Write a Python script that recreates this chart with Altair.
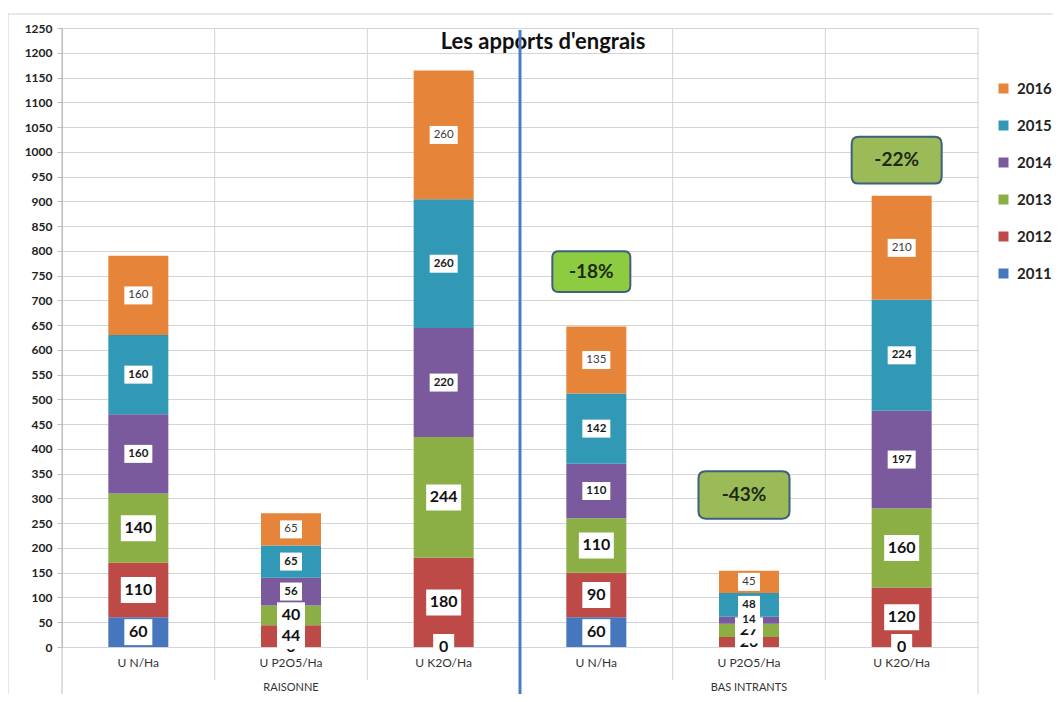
import altair as alt
import pandas as pd

# ---------------- data ----------------
groups = ["RAISONNE", "BAS INTRANTS"]
nutrients = ["U N/Ha", "U P2O5/Ha", "U K2O/Ha"]
years = ["2011", "2012", "2013", "2014", "2015", "2016"]

# order of bars: RAISONNE N, P2O5, K2O ; BAS INTRANTS N, P2O5, K2O
v2011 = [60, 0, 0, 60, 0, 0]
v2012 = [110, 44, 180, 90, 20, 120]
v2013 = [140, 40, 244, 110, 27, 160]
v2014 = [160, 56, 220, 110, 14, 197]
v2015 = [160, 65, 260, 142, 48, 224]
v2016 = [160, 65, 260, 135, 45, 210]
values_by_year = [v2011, v2012, v2013, v2014, v2015, v2016]

y_ticks = list(range(0, 1300, 50))
chart_title = "Les apports d'engrais"

pct_labels = ["-18%", "-43%", "-22%"]
pct_bar_index = [3, 4, 5]
pct_values = [758, 307, 983]

# ---------------- styles ----------------
year_colors = ["#4677BE", "#BE4A47", "#8BAE45", "#7A5A9C", "#3198B5", "#E6853A"]
pct_fills = ["#8DCB41", "#9BBB59", "#9BBB59"]
pct_box_widths = [78, 91, 90]
W, H = 916, 619
BAND = W / 6
FONT = "Lato"
GRID = "#D4D4D4"

cats = [f"{g}|{n}" for g in groups for n in nutrients]

rows = []
for bi, cat in enumerate(cats):
    cum = 0
    for yi, year in enumerate(years):
        v = values_by_year[yi][bi]
        lab = str(v)
        n = len(lab)
        if yi <= 2:
            bw, bh = 7 * n + 14, 26
        else:
            bw, bh = 6 * n + 10, 18
        rows.append(dict(cat=cat, year=year, yi=yi, value=v, mid=cum + v / 2,
                         label=lab, kind=f"{bw}x{bh}", bsize=bw * bw))
        cum += v
df = pd.DataFrame(rows)

kinds = sorted(df["kind"].unique())
paths = []
for k in kinds:
    bw, bh = [int(t) for t in k.split("x")]
    h = bh / bw
    paths.append(f"M-1,{-h} L1,{-h} L1,{h} L-1,{h} Z")

xs = alt.Scale(type="band", domain=cats, paddingInner=0, paddingOuter=0)
ys = alt.Scale(domain=[0, 1250], nice=False, zero=True)

x_axis = alt.Axis(title=None, labelExpr="split(datum.label, '|')[1]", labelAngle=0,
                  ticks=False, tickSize=0, domain=False, grid=False, labelFont=FONT,
                  labelFontSize=12, labelColor="#333333", labelPadding=10, labelLimit=300,
                  labelAlign="center", labelBound=False, zindex=1)
y_axis = alt.Axis(title=None, values=y_ticks, grid=True, gridColor=GRID, tickColor="#BDBDBD",
                  tickSize=5, domainColor="#BDBDBD", labelFont=FONT, labelFontSize=12,
                  labelFontWeight="bold", labelColor="#222222", labelPadding=5,
                  labelOverlap=False, format="d")


def X():
    return alt.X("cat:N", scale=xs, title=None, axis=x_axis)


def Y(field):
    return alt.Y(field, scale=ys, title=None, axis=y_axis)


bars = alt.Chart(df).mark_bar(size=60).encode(
    x=X(),
    y=alt.Y("value:Q", scale=ys, stack="zero", title=None, axis=y_axis),
    order=alt.Order("yi:Q", sort="ascending"),
    color=alt.Color("year:N", scale=alt.Scale(domain=years[::-1], range=year_colors[::-1]),
                    legend=alt.Legend(title=None, orient="none", legendX=934, legendY=53,
                                      direction="vertical", symbolType="square", symbolSize=100,
                                      symbolStrokeWidth=0, labelFont=FONT, labelFontSize=15,
                                      labelFontWeight="bold", labelColor="#222222",
                                      rowPadding=21, labelOffset=6, padding=0)),
)

one = pd.DataFrame({"a": [0]})
frame_left = alt.Chart(one).mark_rule(color="#D0D0D0").encode(
    x=alt.value(-54), y=alt.value(-14), y2=alt.value(H + 70))
frame_top = alt.Chart(one).mark_rule(color="#D0D0D0").encode(
    x=alt.value(-54), x2=alt.value(W + 140), y=alt.value(-14))

inner_sep = alt.Chart(pd.DataFrame({"cat": [cats[1], cats[2], cats[4], cats[5]]})).mark_rule(
    color=GRID, xOffset=-BAND / 2).encode(x=X(), y=alt.value(0), y2=alt.value(H + 33))
outer_sep = alt.Chart(pd.DataFrame({"cat": [cats[0]]})).mark_rule(
    color="#BDBDBD", xOffset=-BAND / 2).encode(x=X(), y=alt.value(0), y2=alt.value(H + 70))
right_edge = alt.Chart(one).mark_rule(color=GRID).encode(
    x=alt.value(W), y=alt.value(0), y2=alt.value(H + 70))

label_layers = []
for yi, year in enumerate(years):
    sub = alt.Chart(df).transform_filter(alt.datum.yi == yi)
    box = sub.mark_point(filled=True, fill="white", opacity=1, strokeWidth=0).encode(
        x=X(), y=Y("mid:Q"),
        shape=alt.Shape("kind:N", scale=alt.Scale(domain=kinds, range=paths), legend=None),
        size=alt.Size("bsize:Q", scale=None, legend=None),
    )
    if yi <= 2:
        style = dict(fontSize=16, fontWeight="bold", color="#111111")
    elif yi <= 4:
        style = dict(fontSize=11.5, fontWeight="bold", color="#1A1A1A")
    else:
        style = dict(fontSize=11.5, fontWeight="normal", color="#3A3A3A")
    txt = sub.mark_text(font=FONT, baseline="middle", align="center", **style).encode(
        x=X(), y=Y("mid:Q"), text="label:N")
    label_layers += [box, txt]

pct_df = pd.DataFrame({
    "cat": [cats[i] for i in pct_bar_index],
    "val": pct_values,
    "label": pct_labels,
    "fill": pct_fills,
    "bsize": [w * w for w in pct_box_widths],
})
r, h = 0.16, 0.52
rr_path = (f"M{-1 + r},{-h} L{1 - r},{-h} Q1,{-h} 1,{-h + r} L1,{h - r} Q1,{h} {1 - r},{h} "
           f"L{-1 + r},{h} Q-1,{h} -1,{h - r} L-1,{-h + r} Q-1,{-h} {-1 + r},{-h} Z")
pct_box = alt.Chart(pct_df).mark_point(shape=rr_path, filled=True, opacity=1,
                                       stroke="#3F5F7F", strokeWidth=2, xOffset=-5).encode(
    x=X(), y=Y("val:Q"),
    fill=alt.Fill("fill:N", scale=None),
    size=alt.Size("bsize:Q", scale=None, legend=None),
)
pct_txt = alt.Chart(pct_df).mark_text(font=FONT, fontSize=19, fontWeight="bold",
                                      color="#1E2A12", baseline="middle", xOffset=-5).encode(
    x=X(), y=Y("val:Q"), text="label:N")

grp_df = pd.DataFrame({"cat": [cats[1], cats[4]], "g": groups})
grp_txt = alt.Chart(grp_df).mark_text(font=FONT, fontSize=11, color="#333333",
                                      baseline="middle").encode(
    x=X(), y=alt.value(H + 41), text="g:N")

title_txt = alt.Chart(pd.DataFrame({"t": [chart_title]})).mark_text(
    font=FONT, fontSize=22, fontWeight="bold", color="#111111", baseline="middle").encode(
    x=alt.value(481), y=alt.value(14), text="t:N")

blue_line = alt.Chart(pd.DataFrame({"cat": [cats[3]]})).mark_rule(
    color="#4A7EC4", strokeWidth=3, xOffset=-BAND / 2).encode(
    x=X(), y=alt.value(2), y2=alt.value(H + 52))

chart = alt.layer(
    frame_left, frame_top, inner_sep, outer_sep, right_edge, bars,
    *label_layers, pct_box, pct_txt, grp_txt, title_txt, blue_line,
).properties(
    width=W, height=H,
    autosize=alt.AutoSizeParams(type="none"),
    padding={"left": 54, "top": 20, "right": 75, "bottom": 47},
    background="white",
).configure_view(stroke=None)

chart.save("out.html", embed_options={"renderer": "svg", "actions": False})
